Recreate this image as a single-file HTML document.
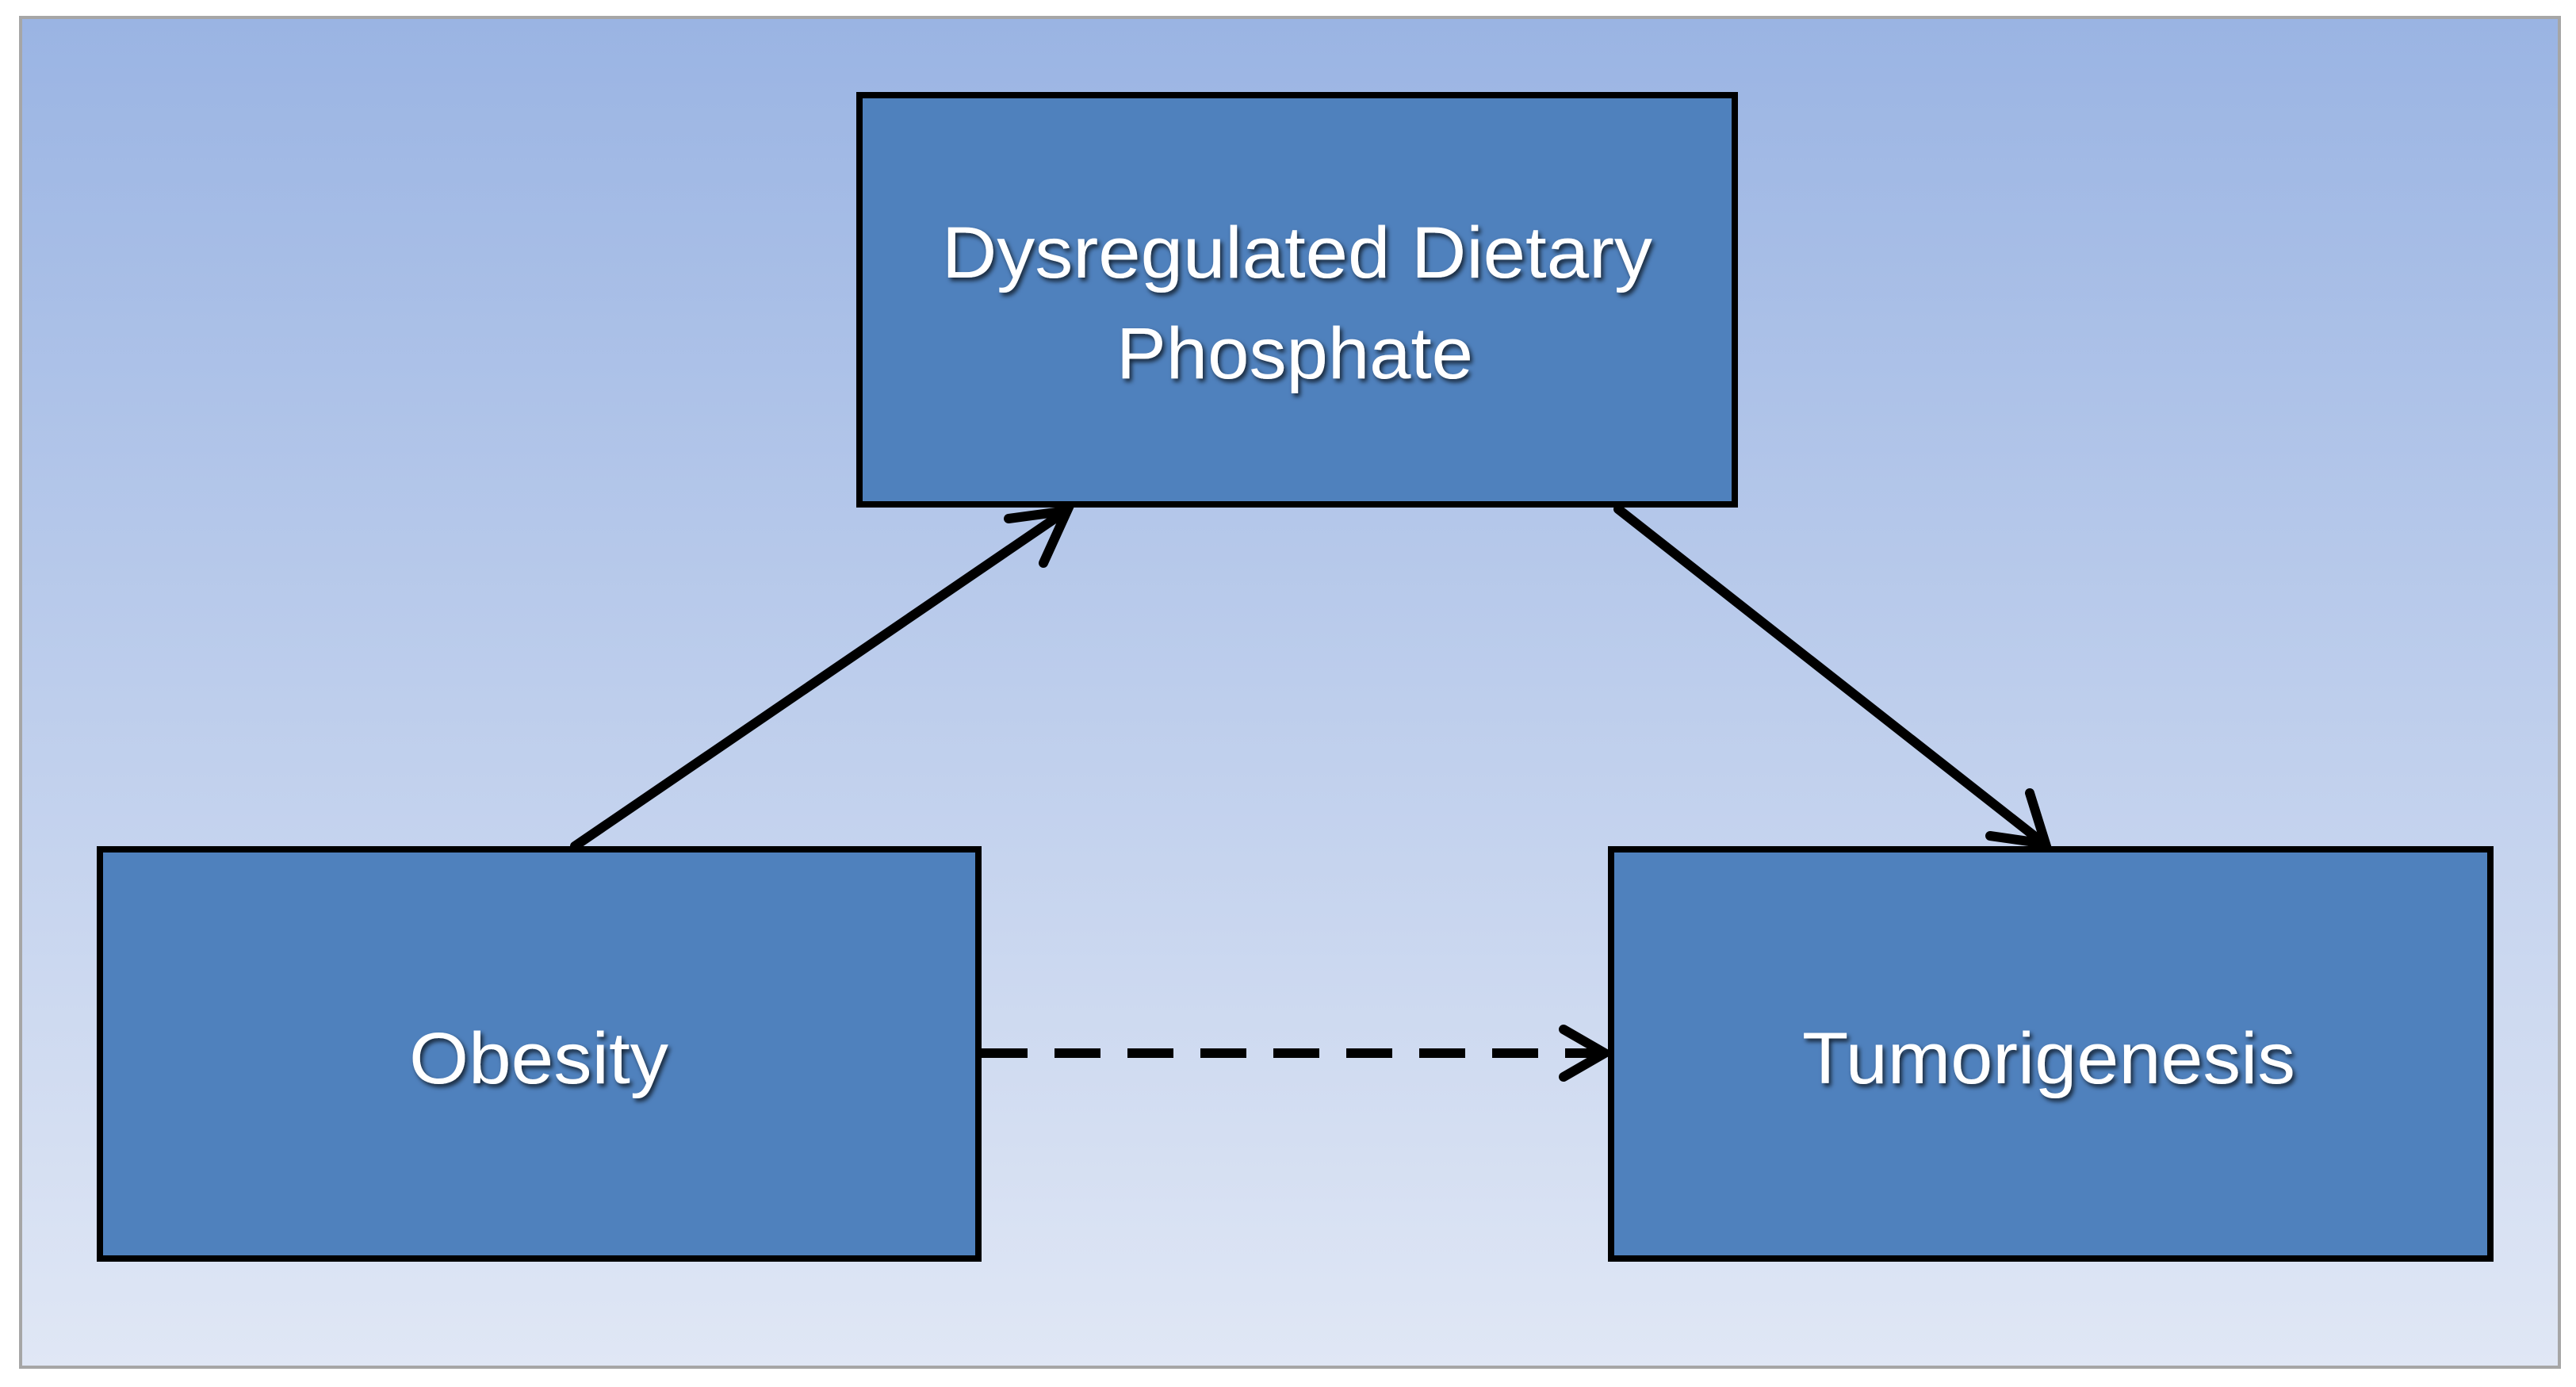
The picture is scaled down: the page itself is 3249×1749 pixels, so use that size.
<!DOCTYPE html>
<html><head><style>html,body{margin:0;padding:0;background:#fff}svg{display:block}</style></head>
<body>
<svg width="3249" height="1749" viewBox="0 0 3249 1749" xmlns="http://www.w3.org/2000/svg">
<defs>
<linearGradient id="bg" x1="0" y1="0" x2="0" y2="1">
<stop offset="0" stop-color="#9ab4e3"/>
<stop offset="1" stop-color="#e0e7f5"/>
</linearGradient>
<filter id="sh" x="-10%" y="-30%" width="120%" height="160%">
<feDropShadow dx="3" dy="4" stdDeviation="3" flood-color="#000" flood-opacity="0.7"/>
</filter>
</defs>
<rect x="26" y="22" width="3202" height="1702" fill="url(#bg)" stroke="#a6a6a6" stroke-width="4"/>
<g fill="#4f81bd" stroke="#000" stroke-width="8">
<rect x="1084" y="120" width="1104" height="516"/>
<rect x="126" y="1071" width="1108" height="516"/>
<rect x="2032" y="1071" width="1109" height="516"/>
</g>
<g stroke="#000" stroke-width="12" stroke-linecap="round" fill="none">
<line x1="725" y1="1067" x2="1342" y2="646"/>
<polyline points="1272,654 1346,644 1316,710"/>
<line x1="2041" y1="642" x2="2577" y2="1063"/>
<polyline points="2510,1054 2580,1064 2560,1000"/>
<line x1="1238" y1="1328" x2="2022" y2="1328" stroke-dasharray="58,34" stroke-linecap="butt"/>
<polyline points="1972,1298 2024,1328 1972,1358"/>
</g>
<g fill="#fff" font-family="Liberation Sans, sans-serif" font-size="92" filter="url(#sh)">
<text x="1188" y="350" textLength="896" lengthAdjust="spacingAndGlyphs">Dysregulated Dietary</text>
<text x="1408" y="477" textLength="450" lengthAdjust="spacingAndGlyphs">Phosphate</text>
<text x="516" y="1366" textLength="327" lengthAdjust="spacingAndGlyphs">Obesity</text>
<text x="2273" y="1366" textLength="622" lengthAdjust="spacingAndGlyphs">Tumorigenesis</text>
</g>
</svg>
</body></html>
